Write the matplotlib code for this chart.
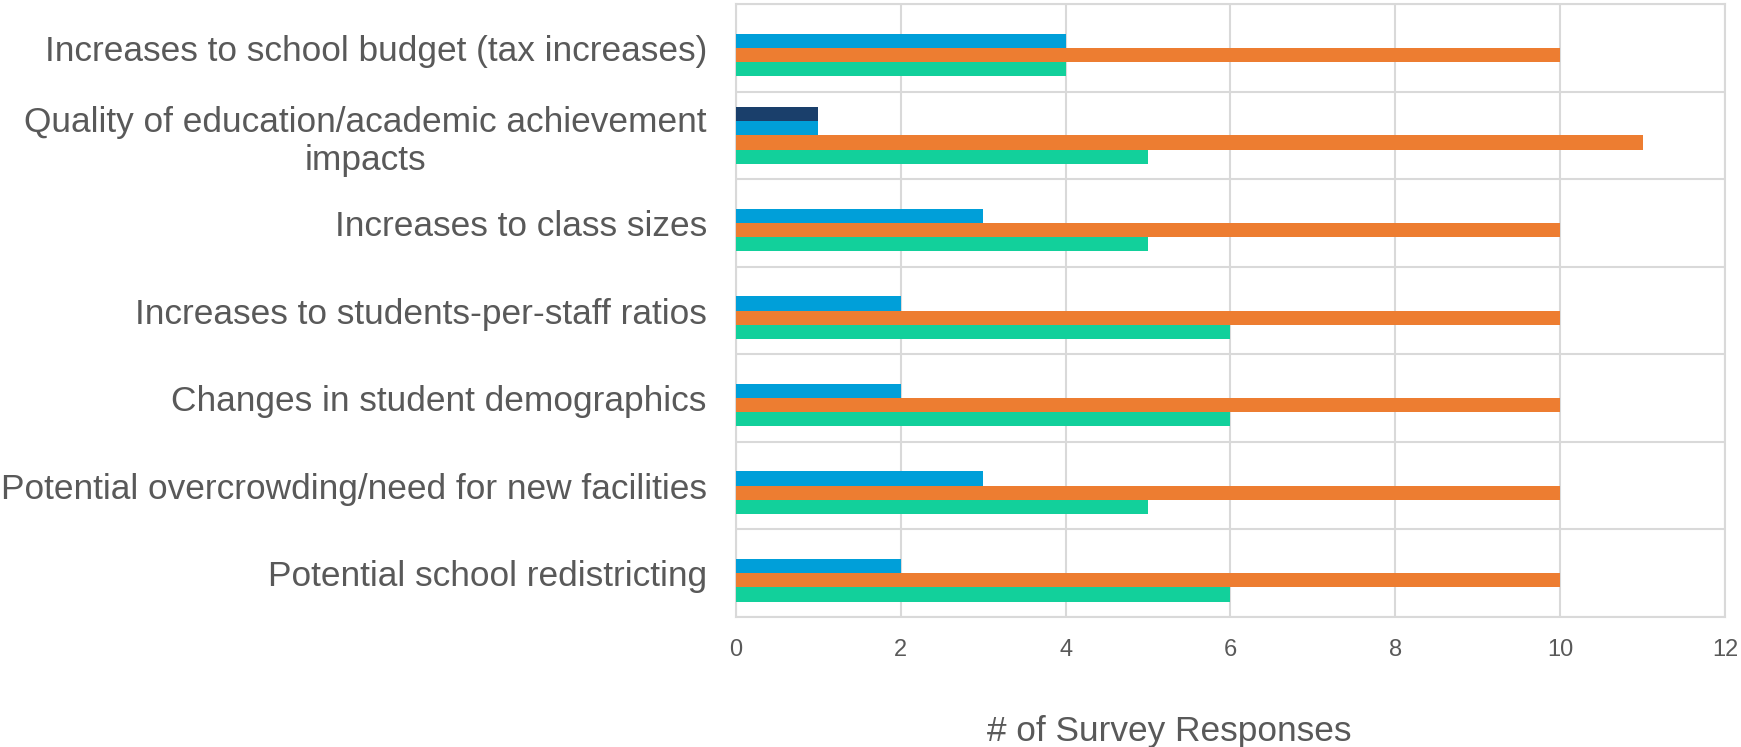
import numpy as np
import matplotlib
matplotlib.use('Agg')
import matplotlib.pyplot as plt

plt.rcParams['font.family'] = ['Liberation Sans', 'DejaVu Sans']

categories = [
    'Increases to school budget (tax increases)',
    'Quality of education/academic achievement\nimpacts',
    'Increases to class sizes',
    'Increases to students-per-staff ratios',
    'Changes in student demographics',
    'Potential overcrowding/need for new facilities',
    'Potential school redistricting',
]
navy_vals = [0, 1, 0, 0, 0, 0, 0]
blue_vals = [4, 1, 3, 2, 2, 3, 2]
orange_vals = [10, 11, 10, 10, 10, 10, 10]
green_vals = [4, 5, 5, 6, 6, 5, 6]

series = [navy_vals, blue_vals, orange_vals, green_vals]
colors = ['#1A3F6B', '#009FD9', '#ED7D31', '#12D09B']

GRID = '#D9D9D9'
TEXT = '#595959'

fig = plt.figure(figsize=(17.41, 7.47), dpi=100)
ax = fig.add_axes([0.4227, 0.174, 0.5681, 0.8206])

y = np.arange(len(categories))
h = 0.162
offsets = [-1.5 * h, -0.5 * h, 0.5 * h, 1.5 * h]
for vals, off, c in zip(series, offsets, colors):
    ax.barh(y + off, vals, height=h, color=c, zorder=3)

ax.set_xlim(0, 12)
ax.set_ylim(len(categories) - 0.5, -0.5)
ax.set_xticks(range(0, 13, 2))
ax.set_yticks(y)
ax.set_yticklabels(categories, fontsize=25.4, color=TEXT, linespacing=1.2,
                   multialignment='center')
ax.set_yticks(np.arange(-0.5, len(categories), 1), minor=True)
ax.tick_params(axis='x', labelsize=17, labelcolor=TEXT, length=0, pad=16)
ax.tick_params(axis='y', which='both', length=0, pad=21)

ax.grid(axis='x', color=GRID, linewidth=1.5, zorder=0)
ax.grid(axis='y', which='minor', color=GRID, linewidth=1.5, zorder=0)
for s in ax.spines.values():
    s.set_color(GRID)
    s.set_linewidth(1.5)

ax.set_xlabel('# of Survey Responses', fontsize=25.4, color=TEXT)
ax.xaxis.set_label_coords(0.438, -0.186)
ax.xaxis.label.set_va('center')

fig.savefig('out.png', dpi=100)
